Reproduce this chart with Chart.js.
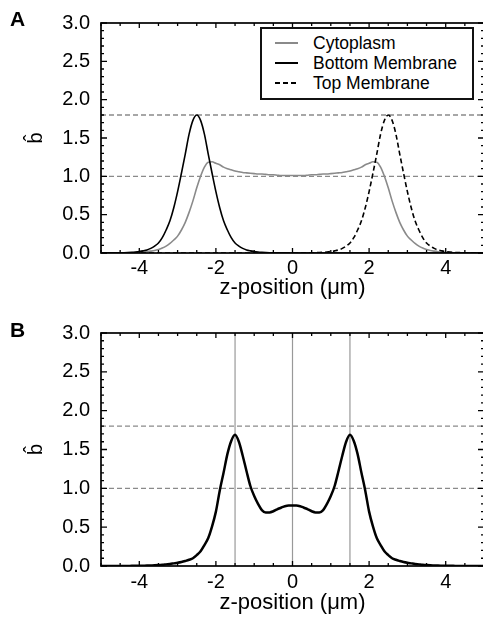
<!DOCTYPE html>
<html><head><meta charset="utf-8">
<script src="https://cdn.jsdelivr.net/npm/chart.js@4"></script>
<style>
html,body{margin:0;padding:0;background:#fff;overflow:hidden;width:483px;height:623px;position:relative;}
canvas{position:absolute;left:0;}
#cA{top:0;} #cB{top:310px;}
.panel{position:absolute;left:10px;font:bold 21px 'Liberation Sans',Arial,sans-serif;line-height:21px;color:#000;}
#legend{position:absolute;left:260px;top:27px;width:210px;height:69px;border:2px solid #111;background:#fff;font:17.5px 'Liberation Sans',Arial,sans-serif;color:#000;}
.row{position:absolute;left:0;width:100%;height:20px;line-height:20px;}
.sample{position:absolute;left:13px;top:9px;width:23px;height:1.5px;}
.lbl{position:absolute;left:51px;top:0;white-space:nowrap;}
</style></head><body>
<canvas id="cA" width="486" height="310"></canvas>
<canvas id="cB" width="486" height="313"></canvas>
<div class="panel" style="top:8px">A</div>
<div class="panel" style="top:319px">B</div>
<div id="legend">
  <div class="row" style="top:4px"><span class="sample" style="background:#8a8a8a"></span><span class="lbl">Cytoplasm</span></div>
  <div class="row" style="top:24px"><span class="sample" style="background:#000"></span><span class="lbl">Bottom Membrane</span></div>
  <div class="row" style="top:44px"><span class="sample" style="background:repeating-linear-gradient(to right,#000 0 5px,transparent 5px 8px)"></span><span class="lbl">Top Membrane</span></div>
</div>
<script>
// ---- data ----
const zGrid = [
 -5,-4.9,-4.8,-4.7,-4.6,-4.5,-4.4,-4.3,-4.2,-4.1,
 -4,-3.9,-3.8,-3.7,-3.6,-3.5,-3.4,-3.3,-3.2,-3.1,
 -3,-2.9,-2.8,-2.7,-2.6,-2.5,-2.4,-2.3,-2.2,-2.1,
 -2,-1.9,-1.8,-1.7,-1.6,-1.5,-1.4,-1.3,-1.2,-1.1,
 -1,-0.9,-0.8,-0.7,-0.6,-0.5,-0.4,-0.3,-0.2,-0.1,
 0,
 0.1,0.2,0.3,0.4,0.5,0.6,0.7,0.8,0.9,1,
 1.1,1.2,1.3,1.4,1.5,1.6,1.7,1.8,1.9,2,
 2.1,2.2,2.3,2.4,2.5,2.6,2.7,2.8,2.9,3,
 3.1,3.2,3.3,3.4,3.5,3.6,3.7,3.8,3.9,4,
 4.1,4.2,4.3,4.4,4.5,4.6,4.7,4.8,4.9,5
];
const cytoplasmA = [
 0,0,0,0,0.001,0.001,0.002,0.003,0.004,0.006,
 0.008,0.012,0.017,0.024,0.033,0.047,0.065,0.09,0.125,0.17,
 0.22,0.30,0.40,0.53,0.68,0.85,1.00,1.12,1.185,1.19,
 1.17,1.15,1.12,1.10,1.085,1.07,1.06,1.05,1.045,1.04,
 1.035,1.03,1.03,1.025,1.02,1.02,1.015,1.01,1.01,1.01,
 1.01,
 1.01,1.01,1.01,1.015,1.02,1.02,1.025,1.03,1.03,1.035,
 1.04,1.045,1.05,1.06,1.07,1.085,1.10,1.12,1.15,1.17,
 1.19,1.185,1.12,1.00,0.85,0.68,0.53,0.40,0.30,0.22,
 0.17,0.125,0.09,0.065,0.047,0.033,0.024,0.017,0.012,0.008,
 0.006,0.004,0.003,0.002,0.001,0.001,0,0,0,0
];
const bottomMembraneA = [
 0,0,0.001,0.001,0.002,0.003,0.004,0.006,0.009,0.013,
 0.019,0.028,0.04,0.06,0.09,0.13,0.20,0.30,0.42,0.59,
 0.80,1.04,1.29,1.55,1.73,1.80,1.73,1.55,1.29,1.04,
 0.80,0.59,0.42,0.30,0.20,0.13,0.09,0.06,0.04,0.028,
 0.019,0.013,0.009,0.006,0.004,0.003,0.002,0.001,0.001,0,
 0,
 0,0,0,0,0,0,0,0,0,0,
 0,0,0,0,0,0,0,0,0,0,
 0,0,0,0,0,0,0,0,0,0,
 0,0,0,0,0,0,0,0,0,0,
 0,0,0,0,0,0,0,0,0,0
];
const topMembraneA = [
 0,0,0,0,0,0,0,0,0,0,
 0,0,0,0,0,0,0,0,0,0,
 0,0,0,0,0,0,0,0,0,0,
 0,0,0,0,0,0,0,0,0,0,
 0,0,0,0,0,0,0,0,0,0,
 0,
 0,0.001,0.001,0.002,0.003,0.004,0.006,0.009,0.013,0.019,
 0.028,0.04,0.06,0.09,0.13,0.20,0.30,0.42,0.59,0.80,
 1.04,1.29,1.55,1.73,1.80,1.73,1.55,1.29,1.04,0.80,
 0.59,0.42,0.30,0.20,0.13,0.09,0.06,0.04,0.028,0.019,
 0.013,0.009,0.006,0.004,0.003,0.002,0.001,0.001,0,0
];
const profileB = [
 0,0,0,0,0,0.001,0.001,0.001,0.002,0.002,
 0.003,0.004,0.005,0.007,0.009,0.012,0.016,0.021,0.026,0.034,
 0.042,0.052,0.065,0.08,0.10,0.14,0.19,0.27,0.36,0.51,
 0.70,0.97,1.20,1.44,1.61,1.69,1.60,1.42,1.22,1.03,
 0.90,0.80,0.72,0.69,0.69,0.705,0.73,0.75,0.77,0.78,
 0.78,
 0.78,0.77,0.75,0.73,0.705,0.69,0.69,0.72,0.80,0.90,
 1.03,1.22,1.42,1.60,1.69,1.61,1.44,1.20,0.97,0.70,
 0.51,0.36,0.27,0.19,0.14,0.10,0.08,0.065,0.052,0.042,
 0.034,0.026,0.021,0.016,0.012,0.009,0.007,0.005,0.004,0.003,
 0.002,0.002,0.001,0.001,0.001,0,0,0,0,0
];
const referenceLevels = [1.0, 1.8];
const markerPositionsB = [-1.5, 0, 1.5];
const xLimits = [-5, 5];
const yLimits = [0, 3];
const xTickValues = [-4, -2, 0, 2, 4];
const yTickValues = [0, 0.5, 1, 1.5, 2, 2.5, 3];
const xTitle = 'z-position (\u03BCm)';
const yTitle = 'b\u0302';

// ---- styling ----
const FONT = "'Liberation Sans', Arial, Helvetica, sans-serif";
const GRAY = '#8a8a8a';
Chart.defaults.font.family = FONT;
Chart.defaults.color = '#000';

const pts = (ys) => zGrid.map((z, i) => ({x: z, y: ys[i]}));

function refLineSets() {
  return referenceLevels.map(v => ({
    data: xLimits.map(x => ({x, y: v})),
    borderColor: GRAY, borderWidth: 1.3, borderDash: [5, 3],
    pointRadius: 0, showLine: true, order: 10
  }));
}

const frameTicks = {
  id: 'frameTicks',
  afterDatasetsDraw(chart) {
    const {ctx, chartArea: a, scales: {x, y}} = chart;
    ctx.save();
    ctx.strokeStyle = '#000';
    ctx.lineWidth = 1.3;
    ctx.beginPath();
    for (let k = 0; k <= 20; k++) {
      const v = xLimits[0] + k * 0.5;
      const p = x.getPixelForValue(v);
      const len = (Math.abs(v) % 2 === 0) ? 5 : 3;
      ctx.moveTo(p, a.bottom); ctx.lineTo(p, a.bottom - len);
      ctx.moveTo(p, a.top); ctx.lineTo(p, a.top + len);
    }
    for (let k = 0; k <= 30; k++) {
      const v = k / 10;
      const p = y.getPixelForValue(v);
      const len = (k % 5 === 0) ? 6 : 3;
      ctx.moveTo(a.left, p); ctx.lineTo(a.left + len, p);
      ctx.moveTo(a.right, p); ctx.lineTo(a.right - len, p);
    }
    ctx.stroke();
    ctx.lineWidth = 1.7;
    ctx.strokeRect(a.left, a.top, a.right - a.left, a.bottom - a.top);
    ctx.restore();
  }
};

function makeChart(id, datasets, cfg) {
  return new Chart(document.getElementById(id), {
    type: 'scatter',
    data: {datasets},
    options: {
      responsive: false, animation: false, events: [],
      layout: {padding: {left: 0, right: 2, top: cfg.top, bottom: 0}},
      plugins: {legend: {display: false}, tooltip: {enabled: false}},
      elements: {line: {cubicInterpolationMode: 'monotone'}},
      scales: {
        x: {
          type: 'linear', min: xLimits[0], max: xLimits[1],
          grid: {display: false, drawTicks: false}, border: {display: false},
          afterBuildTicks: s => { s.ticks = xTickValues.map(v => ({value: v})); },
          afterFit: s => { s.height = cfg.xh; },
          ticks: {font: {size: 20}, padding: cfg.xpad, maxRotation: 0, callback: v => String(v)},
          title: {display: true, text: xTitle, font: {size: 22}, padding: {top: 0, bottom: cfg.tpad}}
        },
        y: {
          type: 'linear', min: yLimits[0], max: yLimits[1],
          grid: {display: false, drawTicks: false}, border: {display: false},
          afterBuildTicks: s => { s.ticks = yTickValues.map(v => ({value: v})); },
          afterFit: s => { s.width = 101; },
          ticks: {font: {size: 20}, padding: 11, callback: v => Number(v).toFixed(1)},
          title: {display: true, text: yTitle, font: {size: 20}, padding: {top: 24, bottom: 0}}
        }
      }
    },
    plugins: [frameTicks]
  });
}

makeChart('cA', [
  {data: pts(cytoplasmA), borderColor: GRAY, borderWidth: 1.6, pointRadius: 0, showLine: true, order: 3},
  {data: pts(bottomMembraneA), borderColor: '#000', borderWidth: 1.6, pointRadius: 0, showLine: true, order: 2},
  {data: pts(topMembraneA), borderColor: '#000', borderWidth: 1.6, borderDash: [5, 3], pointRadius: 0, showLine: true, order: 1},
  ...refLineSets()
], {top: 16, xh: 57, xpad: 3, tpad: 8.5});

makeChart('cB', [
  {data: pts(profileB), borderColor: '#000', borderWidth: 2.5, pointRadius: 0, showLine: true, order: 1},
  ...markerPositionsB.map(m => ({
    data: yLimits.map(v => ({x: m, y: v})),
    borderColor: '#999', borderWidth: 1.2, pointRadius: 0, showLine: true, order: 11
  })),
  ...refLineSets()
], {top: 19, xh: 57, xpad: 4.5, tpad: 6.5});
</script>
</body></html>
